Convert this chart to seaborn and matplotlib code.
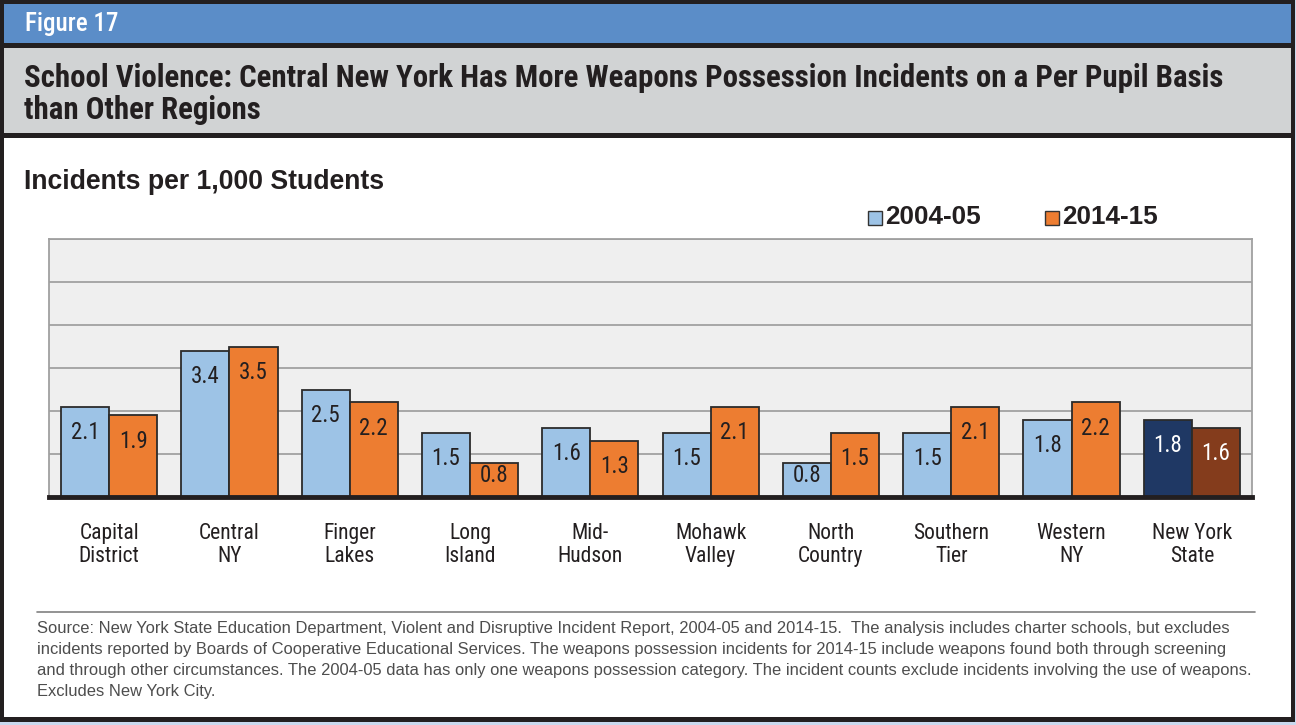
import matplotlib
matplotlib.use("Agg")
import matplotlib.pyplot as plt
from matplotlib.patches import Rectangle
import seaborn as sns
import pandas as pd

# ---- data ----
regions = ["Capital\nDistrict", "Central\nNY", "Finger\nLakes", "Long\nIsland", "Mid-\nHudson",
           "Mohawk\nValley", "North\nCountry", "Southern\nTier", "Western\nNY", "New York\nState"]
periods = ["2004-05", "2014-15"]
vals_2004 = [2.1, 3.4, 2.5, 1.5, 1.6, 1.5, 0.8, 1.5, 1.8, 1.8]
vals_2014 = [1.9, 3.5, 2.2, 0.8, 1.3, 2.1, 1.5, 2.1, 2.2, 1.6]

df = pd.DataFrame({
    "region": regions * 2,
    "period": [periods[0]] * len(regions) + [periods[1]] * len(regions),
    "value": vals_2004 + vals_2014,
})

BLUE = "#9dc3e6"
ORANGE = "#ed7d31"
NAVY = "#1f3864"
BROWN = "#843c1c"
DARK = "#231f20"
NARROW = ["Roboto Condensed", "DejaVu Sans"]
ARIAL = ["Liberation Sans", "DejaVu Sans"]

sns.set_theme(style="white")
W, H = 1296, 725
fig = plt.figure(figsize=(W / 100, H / 100), dpi=100)
fig.patch.set_facecolor("white")

def px_rect(x0, y0, x1, y1, color, z=-10):
    fig.patches.append(Rectangle((x0 / W, 1 - y1 / H), (x1 - x0) / W, (y1 - y0) / H,
                                 transform=fig.transFigure, facecolor=color,
                                 edgecolor="none", zorder=z))

# frame / header bands
px_rect(0, 0, W, H, "#c9d9ee", -20)
px_rect(0, 0, 1295, 722, "#231f20", -19)
px_rect(4, 4, 1291, 717, "white", -18)
px_rect(4, 4, 1291, 43, "#5b8dc8", -17)
px_rect(4, 43, 1291, 48, "#231f20", -17)
px_rect(4, 48, 1291, 133, "#d1d3d4", -17)
px_rect(4, 133, 1291, 138, "#231f20", -17)

def ftext(x, y, s, **kw):
    fig.text(x / W, 1 - y / H, s, **kw)

ftext(25, 24, "Figure 17", color="white", fontsize=18, family=NARROW,
      va="center", ha="left", weight="medium")
ftext(24, 78, "School Violence: Central New York Has More Weapons Possession Incidents on a Per Pupil Basis",
      color=DARK, fontsize=22.2, family=NARROW, weight="bold", va="center", ha="left")
ftext(24, 110, "than Other Regions",
      color=DARK, fontsize=22.2, family=NARROW, weight="bold", va="center", ha="left")
ftext(24, 182, "Incidents per 1,000 Students", color=DARK, fontsize=19.2,
      family=ARIAL, weight="bold", va="center", ha="left")

# ---- plot ----
ax = fig.add_axes([49 / W, 1 - 497 / H, 1203 / W, 258 / H])
sns.barplot(data=df, x="region", y="value", hue="period", palette=[BLUE, ORANGE],
            saturation=1, width=0.8, edgecolor="#2b2b2b", linewidth=1.3, ax=ax,
            legend=False, zorder=3)
ax.set_facecolor("#efefef")
ax.set_ylim(0, 6)
ax.set_xlim(-0.5, len(regions) - 0.5)
ax.set_yticks(range(0, 7))
ax.set_yticklabels([])
ax.yaxis.grid(True, color="#9a9a9a", linewidth=1.2, zorder=0)
ax.set_axisbelow(True)
ax.set_xlabel("")
ax.set_ylabel("")
ax.tick_params(axis="both", length=0)
ax.tick_params(axis="x", pad=18.5)
for lbl in ax.get_xticklabels():
    lbl.set_fontfamily(NARROW)
    lbl.set_fontsize(15.5)
    lbl.set_color(DARK)
    lbl.set_linespacing(1.17)
for side in ["left", "right", "top"]:
    ax.spines[side].set_color("#a0a0a0")
    ax.spines[side].set_linewidth(1.3)
ax.spines["bottom"].set_color(DARK)
ax.spines["bottom"].set_linewidth(3.5)
ax.spines["bottom"].set_zorder(5)

# recolour New York State bars and label values
dark_fill = [NAVY, BROWN]
for ci, cont in enumerate(ax.containers):
    for bi, bar in enumerate(cont):
        v = bar.get_height()
        is_state = bi == len(regions) - 1
        if is_state:
            bar.set_facecolor(dark_fill[ci])
        ly = max(v - 0.6, 0.5)
        ax.text(bar.get_x() + bar.get_width() / 2, ly, f"{v:.1f}",
                ha="center", va="center", fontsize=16.5, family=NARROW,
                color="white" if is_state else DARK, zorder=6)

# legend
for x0, col, lab in [(868, BLUE, periods[0]), (1045, ORANGE, periods[1])]:
    fig.patches.append(Rectangle((x0 / W, 1 - 225 / H), 14 / W, 14 / H,
                                 transform=fig.transFigure, facecolor=col,
                                 edgecolor="#333333", linewidth=1.0, zorder=5))
    ftext(x0 + 17, 217, lab, color=DARK, fontsize=18.8, family=ARIAL,
          weight="bold", va="center", ha="left")

# source note
fig.lines.append(plt.Line2D([37 / W, 1255 / W], [1 - 612 / H, 1 - 612 / H],
                            transform=fig.transFigure, color="#808080", linewidth=1.2))
source = ("Source: New York State Education Department, Violent and Disruptive Incident Report, 2004-05 and 2014-15.  The analysis includes charter schools, but excludes\n"
          "incidents reported by Boards of Cooperative Educational Services. The weapons possession incidents for 2014-15 include weapons found both through screening\n"
          "and through other circumstances. The 2004-05 data has only one weapons possession category. The incident counts exclude incidents involving the use of weapons.\n"
          "Excludes New York City.")
ftext(37, 621, source, color="#4d4d4d", fontsize=11.9, family=ARIAL,
      va="top", ha="left", linespacing=1.5)

fig.savefig("out.png", dpi=100)
